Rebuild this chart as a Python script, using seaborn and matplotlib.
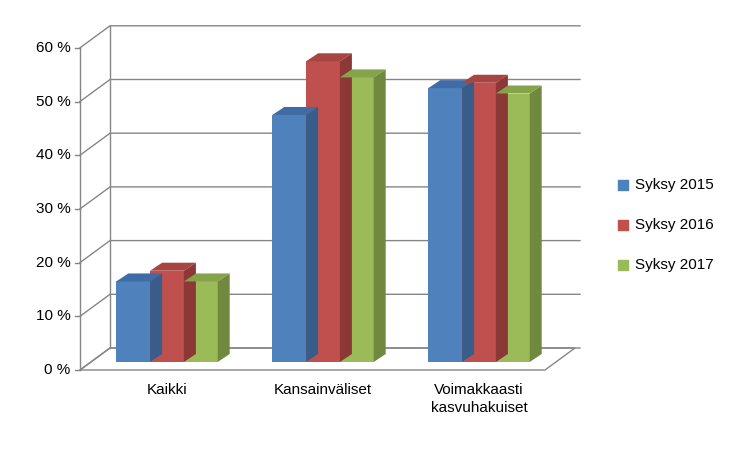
import matplotlib
matplotlib.use("Agg")
import matplotlib.pyplot as plt
import seaborn as sns
import pandas as pd
from matplotlib.patches import Polygon

categories = ["Kaikki", "Kansainväliset", "Voimakkaasti\nkasvuhakuiset"]
series = ["Syksy 2015", "Syksy 2016", "Syksy 2017"]
v2015 = [15, 46, 51]
v2016 = [17, 56, 52]
v2017 = [15, 53, 50]
yticks = [0, 10, 20, 30, 40, 50, 60]
ytick_labels = ["0 %", "10 %", "20 %", "30 %", "40 %", "50 %", "60 %"]

colors = ["#4F81BD", "#C0504D", "#9BBB59"]
dark = ["#385D8A", "#8C3836", "#71893F"]
top = ["#3F6CA5", "#A84442", "#86A34B"]

rows = []
for s, vals in zip(series, [v2015, v2016, v2017]):
    for c, v in zip(categories, vals):
        rows.append({"cat": c, "series": s, "val": v})
df = pd.DataFrame(rows)

fig = plt.figure(figsize=(7.5, 4.5), dpi=100)
ax = fig.add_axes([0, 0, 1, 1])
sns.barplot(data=df, x="cat", y="val", hue="series", palette=colors,
            width=0.65, ax=ax, legend=False, saturation=1, zorder=3)

px = 156.0   # pixels per category
py = 5.37    # pixels per percent
ax.set_xlim(-167 / px, (750 - 167) / px)
ax.set_ylim((370 - 450) / py, 370 / py)
ax.axis("off")

def X(p): return (p - 167) / px
def Y(p): return (370 - p) / py

gx, gy = 30 / px, 22 / py
x0, x1 = X(80), X(550)
grey = "#868686"
# floor
ax.add_patch(Polygon([(x0, 0), (X(545), 0), (X(545) + gx, gy), (x0 + gx, gy)],
                     closed=True, fill=False, edgecolor=grey, lw=1, zorder=1))
# gridlines
for t, lab in zip(yticks, ytick_labels):
    ax.plot([x0, x0 + gx, X(580)], [t, t + gy, t + gy], color=grey, lw=1, zorder=1)
    ax.plot([x0 - 0.03, x0], [t, t], color=grey, lw=1, zorder=1)
    ax.text(x0 - 0.06, t, lab, ha="right", va="center", fontsize=11, family="Liberation Sans")
ax.plot([x0, x0], [0, 60], color=grey, lw=1, zorder=1)
ax.plot([x0 + gx, x0 + gx], [gy, 60 + gy], color=grey, lw=1, zorder=1)

# 3D bars
base = 8 / py
bx, by = 12 / px, 8 / py
for i, cont in enumerate(ax.containers):
    for p in cont.patches:
        h = p.get_height()
        p.set_y(base)
        p.set_edgecolor("none")
        xl = p.get_x(); w = p.get_width(); xr = xl + w
        yt = base + h
        ax.add_patch(Polygon([(xl, yt), (xr, yt), (xr + bx, yt + by), (xl + bx, yt + by)],
                             closed=True, facecolor=top[i], edgecolor="none", zorder=3))
        ax.add_patch(Polygon([(xr, base), (xr + bx, base + by), (xr + bx, yt + by), (xr, yt)],
                             closed=True, facecolor=dark[i], edgecolor="none", zorder=3))

for j, c in enumerate(categories):
    ax.text(j, Y(383), c, ha="center", va="top", fontsize=11, family="Liberation Sans",
            linespacing=1.4)

for k, s in enumerate(series):
    yy = Y(185 + 40 * k)
    ax.scatter([X(623)], [yy], marker="s", s=60, color=colors[k])
    ax.text(X(635), yy, s, ha="left", va="center", fontsize=11, family="Liberation Sans")

fig.savefig("out.png", dpi=100)
